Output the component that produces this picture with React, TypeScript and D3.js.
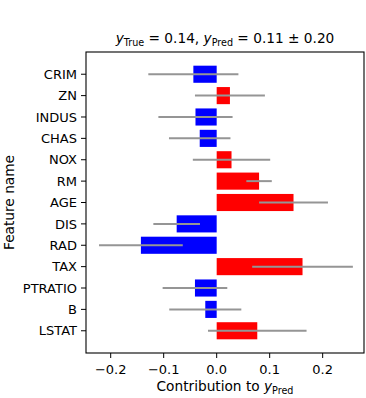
import React from "react";
import * as d3 from "d3";

const features = ["CRIM", "ZN", "INDUS", "CHAS", "NOX", "RM", "AGE", "DIS", "RAD", "TAX", "PTRATIO", "B", "LSTAT"];
const contributions = [-0.044, 0.025, -0.040, -0.032, 0.028, 0.080, 0.145, -0.0755, -0.143, 0.162, -0.041, -0.0215, 0.0766];
const errors = [0.085, 0.066, 0.070, 0.058, 0.073, 0.024, 0.065, 0.044, 0.079, 0.095, 0.061, 0.068, 0.093];
const xTicks = [-0.2, -0.1, 0.0, 0.1, 0.2];

const W = 366, H = 398;
const left = 86, right = 364, top = 52, bottom = 353;
const FONT = "DejaVu Sans, sans-serif";
const LS = 13.7;
const SS = 9.6;
const TS = 13;

export default function App() {
  const x = d3.scaleLinear().domain([-0.2466, 0.278]).range([left, right]);
  const y = d3.scaleLinear().domain([-1.04, 13.04]).range([top, bottom]);
  const barH = y(0.8) - y(0);
  const fmt = (v: number) => (v < 0 ? "\u2212" : "") + Math.abs(v).toFixed(1);

  return (
    <svg width={W} height={H} style={{ position: "absolute", left: 0, top: 0, background: "#fff" }} fontFamily={FONT}>
      {features.map((f, i) => {
        const v = contributions[i];
        return (
          <rect key={"b" + f} x={Math.min(x(0), x(v))} y={y(i) - barH / 2} width={Math.abs(x(v) - x(0))} height={barH}
            fill={v < 0 ? "#0000ff" : "#ff0000"} />
        );
      })}
      {features.map((f, i) => {
        const v = contributions[i];
        return (
          <line key={"e" + f} x1={x(v - errors[i])} x2={x(v + errors[i])} y1={y(i)} y2={y(i)} stroke="#959595" strokeWidth={2} />
        );
      })}
      <rect x={left} y={top} width={right - left} height={bottom - top} fill="none" stroke="#000" strokeWidth={1.1} />
      {features.map((f, i) => (
        <g key={"t" + f}>
          <line x1={left - 5} x2={left} y1={y(i)} y2={y(i)} stroke="#000" strokeWidth={1} />
          <text x={left - 9} y={y(i)} dy="0.36em" textAnchor="end" fontSize={TS}>{f}</text>
        </g>
      ))}
      {xTicks.map((t) => (
        <g key={"x" + t}>
          <line x1={x(t)} x2={x(t)} y1={bottom} y2={bottom + 5} stroke="#000" strokeWidth={1} />
          <text x={x(t)} y={374} textAnchor="middle" fontSize={TS}>{fmt(t)}</text>
        </g>
      ))}
      <text x={(left + right) / 2} y={391} textAnchor="middle" fontSize={LS}>
        Contribution to <tspan fontStyle="italic">y</tspan><tspan fontSize={SS} dy={2.8}>Pred</tspan>
      </text>
      <text transform={`translate(13.5,${(top + bottom) / 2}) rotate(-90)`} textAnchor="middle" fontSize={LS}>Feature name</text>
      <text x={(left + right) / 2} y={43} textAnchor="middle" fontSize={LS}>
        <tspan fontStyle="italic">y</tspan><tspan fontSize={SS} dy={2.8}>True</tspan>
        <tspan dy={-2.8}> = 0.14, </tspan>
        <tspan fontStyle="italic">y</tspan><tspan fontSize={SS} dy={2.8}>Pred</tspan>
        <tspan dy={-2.8}> = 0.11 ± 0.20</tspan>
      </text>
    </svg>
  );
}
